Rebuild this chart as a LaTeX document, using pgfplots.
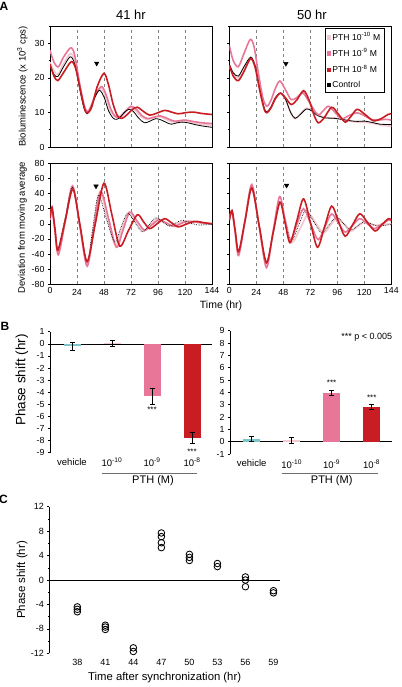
\documentclass[border=0pt]{standalone}
\usepackage{pgfplots}
\pgfplotsset{compat=1.18}
\usepackage{fontspec}
\setmainfont{Liberation Sans}
\newcommand\fs[1]{\fontsize{#1}{#1}\selectfont}
\definecolor{cred}{RGB}{200,30,35}
\definecolor{cpink}{RGB}{232,118,152}
\definecolor{clpink}{RGB}{244,202,210}
\definecolor{cteal}{RGB}{125,198,202}
\definecolor{cgrid}{RGB}{130,130,130}
\definecolor{cline}{RGB}{110,110,110}
\pgfplotsset{
  base/.style={scale only axis, /pgf/number format/assume math mode=true,
    tick align=outside, major tick length=2pt, minor tick length=1.5pt,
    tick style={black, line width=0.5pt},
    axis line style={line width=0.6pt},
    ticklabel style={font=\fs{8.8}},
    label style={font=\fs{9.5}}},
  Apanel/.style={base, width=162pt, height=121pt, xmin=0, xmax=144,
    xtick={24,48,...,120}, xmajorgrids, grid style={dashed, cgrid, line width=0.6pt},
    major x tick style={draw=none}, ytick pos=left},
  Abot/.style={Apanel, ymin=-80, ymax=80, ytick={-80,-60,...,80},
    extra x ticks={0,144}, extra x tick style={grid=none, major tick length=0pt}},
  Atop/.style={Apanel, ymin=0, ymax=35, ytick={0,10,20,30}, minor ytick={5,15,25,35}, xticklabel=\empty},
  clp/.style={clpink, line width=1.8pt, smooth, forget plot},
  pk/.style={cpink, line width=1.6pt, smooth, forget plot},
  blk/.style={black, line width=0.8pt, smooth, forget plot},
  blkd/.style={black, line width=0.7pt, densely dotted, smooth, forget plot},
  rd/.style={cred, line width=1.6pt, smooth, forget plot},
  tri/.style={only marks, mark=triangle*, mark size=2.6pt, mark options={rotate=180, black}, forget plot},
  Bpanel/.style={base, width=162pt, height=121pt, xmin=-0.55, xmax=3.5,
    axis y line*=left, axis x line*=bottom, axis line style={-}, x axis line style={draw=none},
    xtick={0,1,2,3}, xticklabels={vehicle,10\textsuperscript{-10},10\textsuperscript{-9},10\textsuperscript{-8}},
    xticklabel style={font=\fs{9.5}},
    major x tick style={draw=none}, clip=false},
  bar/.style={ybar, bar width=17pt, bar shift=0pt, draw=none, fill=#1,
    error bars/.cd, y dir=both, y explicit,
    error bar style={black, line width=0.6pt},
    error mark options={black, mark size=2.5pt, line width=0.6pt, rotate=90}},
}
\begin{document}
\begin{tikzpicture}
\useasboundingbox (0,0) rectangle (401pt,-687pt);
% ---------------- A top left (41 hr)
\begin{axis}[Atop, at={(50pt,-147pt)}, anchor=south west,
  ylabel={Bioluminescence (x 10\textsuperscript{3} cps)},
  ylabel style={at={(axis description cs:-0.17,0.5)}, anchor=center}]
\addplot[clp] coordinates {(0,24.5) (3.5,22) (7,21) (12,24) (18,27) (22,25) (26,18) (30,12) (33,10) (36,11) (40,14.5) (45,17) (49,15) (53,11) (57,9) (61,8.7) (65,9.8) (71,11.5) (76,10.5) (81,8.8) (86,8.0) (91,8.4) (97,8.8) (102,8.2) (107,7.4) (112,7.3) (118,7.6) (124,7.3) (130,6.8) (137,6.5) (144,6.3)};
\addplot[pk] coordinates {(0,28) (3.5,24.5) (7.5,23.2) (12,26) (18.5,28.7) (22,26.5) (26,19) (30,12.5) (33,10.2) (36,11.5) (41,15.5) (46,17.5) (50,15) (54,11) (58,8.9) (62,8.5) (66,9.8) (72,11.8) (77,10.8) (82,9.0) (87,8.2) (92,8.6) (98,9.0) (104,8.3) (110,7.5) (115,7.6) (120,7.8) (127,7.4) (135,7.0) (144,6.8)};
\addplot[blk] coordinates {(0,23.7) (3.5,21) (7,20.4) (12,23.2) (18,26.1) (22,24) (26,17.5) (30,11.5) (33,9.6) (36,11) (40,14.5) (44,16.4) (48,14.5) (52,10.5) (56,8.4) (59,8.0) (62,8.5) (66,10) (70,10.9) (74,10.3) (79,8.3) (84,7.0) (89,7.5) (94,8.2) (99,7.8) (104,7.0) (108,6.6) (113,7.0) (118,7.2) (124,6.9) (130,6.4) (137,6.0) (144,5.7)};
\addplot[rd] coordinates {(0,24) (3.5,20.5) (7,19.2) (12,21.5) (19,24.7) (23,22.5) (27,16.5) (31,10.8) (33.5,9.9) (37,11.5) (42,17.5) (48,21.3) (52,18) (56,12.5) (60,9.0) (64,8.3) (68,9.2) (73,10.8) (77.6,11.5) (83,10.3) (88.6,9.2) (95,9.8) (102,10.6) (108,10.1) (114,9.6) (120,9.9) (127,10.1) (135,9.7) (144,9.4)};
\addplot[tri] coordinates {(41.5,24.2)};
\end{axis}
% ---------------- A top right (50 hr)
\begin{axis}[Atop, at={(229.3pt,-147pt)}, anchor=south west, yticklabel=\empty,
  legend style={at={(0.959,0.981)}, anchor=north east, font=\fs{8.6}, draw=black, line width=0.6pt, inner sep=2pt, row sep=2.6pt},
  legend cell align=left]
\addplot[clp] coordinates {(0,23.5) (3.5,21) (8,20) (13,22.8) (19,25.5) (23,23) (27,16.5) (31,11) (33.5,10) (37,11.5) (41,14.3) (45.5,15.5) (50,13.7) (54.5,10) (58.5,8.2) (63,9.5) (68.5,11.2) (73,10.7) (79,9.2) (86,8.5) (93,8.4) (100,8.0) (107,7.5) (114,7.2) (120,7.2) (127,6.9) (134,6.4) (144,6.0)};
\addplot[blk] coordinates {(0,24) (3.5,21.5) (8,20.5) (13,23.2) (19,26) (23,23.5) (27,17) (31,11.3) (33.5,10.2) (37,11.5) (41,14.3) (45.5,15.6) (50,13.8) (54.5,10) (58.5,8.3) (63,9.4) (68.5,11) (73,10.5) (79,9.0) (86,8.4) (93,8.3) (100,8.0) (107,7.6) (114,7.4) (120,7.5) (127,7.1) (134,6.6) (144,6.5)};
\addplot[pk] coordinates {(0,29.4) (3.5,25) (8,23.2) (13,27) (18.6,31.1) (22,29) (26,21) (30,14) (33.5,11.8) (37,13.5) (41,17) (45,19.1) (50,16.5) (55,13.7) (60,14.3) (65.5,15.6) (71,13) (78.5,9.4) (83,10.3) (88,11.8) (94,10) (100,8.2) (107,9.2) (113.5,9.9) (120,9.1) (126,8.0) (133,7.8) (139,8.0) (144,7.8)};
\addplot[rd] coordinates {(0,23.7) (3.5,20.5) (8,19.2) (13,21.8) (19,25.6) (23,23) (27,16.5) (31,11) (33.5,9.9) (37,11.3) (41,14) (45.5,15.6) (50,14.2) (55,12.3) (60,13.6) (66,16.3) (71,13.5) (75,9.5) (79,7.0) (84,8.3) (91,11.5) (97,9.5) (103,7.2) (108,8.8) (113.5,10.9) (120,9.6) (128,7.6) (135,8.2) (141,9.4) (144,9.6)};
\addplot[tri] coordinates {(50.3,24.1)};
\addlegendimage{only marks, mark=square*, mark size=1.7pt, clpink}
\addlegendentry{PTH 10\textsuperscript{-10} M}
\addlegendimage{only marks, mark=square*, mark size=1.7pt, cpink}
\addlegendentry{PTH 10\textsuperscript{-9} M}
\addlegendimage{only marks, mark=square*, mark size=1.7pt, cred}
\addlegendentry{PTH 10\textsuperscript{-8} M}
\addlegendimage{only marks, mark=square*, mark size=1.7pt, black}
\addlegendentry{Control}
\end{axis}
% ---------------- A bottom left
\begin{axis}[Abot, at={(50pt,-284.3pt)}, anchor=south west,
  ylabel={Deviation from moving average},
  ylabel style={at={(axis description cs:-0.17,0.47)}, anchor=center}]
\addplot[clp] coordinates {(0,6) (1.8,20) (4.5,-9) (7.3,-38) (13.7,6) (20.2,50) (26.6,-2) (33,-54) (38.7,-6) (44.5,42) (51.2,7) (58,-28) (64,-6.5) (70,15) (76.5,2.7) (83,-9.5) (89.2,-1.5) (95.5,6.5) (101.7,1.7) (108,-3) (114,0.2) (120,3.5) (132,1.7) (144,0)};
\addplot[pk] coordinates {(0,5) (1.8,18) (4.6,-11.5) (7.5,-41) (13.7,4.5) (20,50) (26.5,-3) (33,-56) (39,-6) (45,43) (52,7.5) (59,-31) (65,-7.7) (71,15.5) (77.5,3.5) (84,-8.5) (90.5,-1.5) (97,5.5) (103.5,1.1) (110,-3.3) (116,0) (122,3.3) (133,1.6) (144,0)};
\addplot[blkd] coordinates {(0,15) (1.8,20) (4.4,-6) (7,-33) (13.5,7.5) (20,48) (26.5,-1) (33,-50) (38,-6) (43,38) (50,7) (57.5,-24) (63,-5) (69,14) (75.5,1.7) (82,-10.7) (88,-1.4) (94,8) (100,2.5) (106,-3) (111.5,0.8) (117,4.6) (124,1.5) (131,-1.5) (137.5,-1.2) (144,-1)};
\addplot[rd] coordinates {(0,8) (1.8,22) (4.4,-6.5) (7,-35) (13.7,5.5) (20.4,46) (26.7,-2) (33,-50) (40.5,1.85) (48,53.7) (55,12.2) (62,-29.4) (69.8,-8.7) (77.6,12) (83.1,2.8) (88.6,-6.4) (95.3,0.2) (102,6.8) (108,1.4) (114,-4) (121.3,-0.35) (128.6,3.3) (136.3,1.6) (144,0)};
\addplot[tri] coordinates {(40.9,49.7)};
\end{axis}
% ---------------- A bottom right
\begin{axis}[Abot, at={(229.3pt,-284.3pt)}, anchor=south west, yticklabel=\empty]
\addplot[clp] coordinates {(0,5) (2.4,17) (5.3,-10.5) (8.3,-38) (14.1,4.5) (20,47) (26.5,-2.5) (33,-52) (39,-12) (45,28) (50.3,1.5) (55.6,-25) (63,-5.8) (70.4,13.3) (77,0.6) (83.7,-12) (89.8,-2) (96,8) (102,-0.8) (108,-9.6) (114,-3.6) (120,2.3) (125,0.2) (130,-2) (137,-1) (144,0)};
\addplot[blkd] coordinates {(0,3) (2.4,15) (5.3,-10.5) (8.3,-36) (14.1,5) (20,46) (26.5,-2) (33,-50) (39,-11) (45,28) (50,2.5) (55,-23) (61.5,-2.5) (68,18) (75,3) (82,-12) (88.5,-1.5) (95,9) (101.5,0.5) (108,-8) (114,-2.5) (120,3) (126,0) (132,-3) (138,-2) (144,-1)};
\addplot[pk] coordinates {(0,5) (2.4,16) (5.3,-13) (8.3,-42) (14.1,5) (20,52) (26.5,-3) (33,-58) (38.8,-11) (44.7,36) (49.3,7) (54,-22) (60,-1) (66,20) (72.5,-0.5) (79,-21) (85,-4) (91,13) (97,1) (103,-11) (109.5,-2.1) (116,6.8) (122.5,0.2) (129,-6.4) (135,-0.9) (141,4.6) (144,4)};
\addplot[rd] coordinates {(0,4.6) (2.4,17.7) (5.3,-9.6) (8.3,-37) (14.1,5.2) (20,47.5) (26.5,-2) (33,-51.6) (39,-11.5) (45,28.7) (49.5,1.9) (54,-25) (60,4) (66,33) (72.2,1) (78.4,-31) (84.7,-3.8) (91,23.4) (97,3.4) (103,-16.5) (109.5,-1.6) (116,13.3) (122.8,1.9) (129.6,-9.5) (135.5,-1.4) (141.4,6.8) (144,5)};
\addplot[tri] coordinates {(50.9,50.7)};
\end{axis}
% titles
\node[font=\bfseries\fs{12}] at (4pt,-6.5pt) {A};
\node[font=\fs{13}] at (131pt,-15pt) {41 hr};
\node[font=\fs{13}] at (312pt,-15pt) {50 hr};
\node[font=\fs{10.5}] at (221pt,-305.6pt) {Time (hr)};
% ---------------- B left
\begin{axis}[Bpanel, at={(50pt,-452.7pt)}, anchor=south west, ymin=-9, ymax=1, ytick={-9,...,1},
  ylabel={Phase shift (hr)}, ylabel style={font=\fs{13.5}, at={(axis description cs:-0.173,0.6)}, anchor=center}]
\addplot[black, line width=0.6pt] coordinates {(-0.55,0) (3.5,0)};
\addplot[bar=cteal] coordinates {(0,-0.2) +- (0,0.32)};
\addplot[bar=clpink] coordinates {(1,0.03) +- (0,0.23)};
\addplot[bar=cpink] coordinates {(2,-4.3) +- (0,0.66)};
\addplot[bar=cred] coordinates {(3,-7.78) +- (0,0.47)};
\node[font=\fs{8}] at (axis cs:2,-5.45) {***};
\node[font=\fs{8}] at (axis cs:3,-8.95) {***};
\end{axis}
% ---------------- B right
\begin{axis}[Bpanel, at={(230pt,-454pt)}, anchor=south west, width=161.7pt, height=123.3pt, xmin=-0.54, ymin=-1, ymax=9, ytick={-1,...,9}]
\addplot[black, line width=0.6pt] coordinates {(-0.54,0) (3.5,0)};
\addplot[bar=cteal] coordinates {(0,0.25) +- (0,0.22)};
\addplot[bar=clpink] coordinates {(1,0.12) +- (0,0.25)};
\addplot[bar=cpink] coordinates {(2,3.95) +- (0,0.22)};
\addplot[bar=cred] coordinates {(3,2.83) +- (0,0.2)};
\node[font=\fs{8}] at (axis cs:2,4.75) {***};
\node[font=\fs{8}] at (axis cs:3,3.55) {***};
\end{axis}
\node[font=\bfseries\fs{12}] at (5pt,-326pt) {B};
\node[font=\fs{9}] at (366.7pt,-337pt) {*** p < 0.005};
\draw[cline, line width=0.8pt] (101.7pt,-473pt) -- (197.3pt,-473pt);
\node[font=\fs{11}] at (153pt,-481pt) {PTH (M)};
\draw[cline, line width=0.8pt] (281.7pt,-473pt) -- (378.3pt,-473pt);
\node[font=\fs{11}] at (331.7pt,-481pt) {PTH (M)};
% ---------------- C
\begin{axis}[base, at={(49.3pt,-653.3pt)}, anchor=south west, width=230.7pt, height=146.6pt,
  xmin=35, xmax=59.7, ymin=-12, ymax=12, ytick={-12,-8,...,12}, minor ytick={-10,-6,...,10},
  axis y line*=left, axis x line*=bottom, axis line style={-}, x axis line style={draw=none},
  xtick={38,41,...,59}, major x tick style={draw=none}, ticklabel style={font=\fs{9}},
  xlabel={Time after synchronization (hr)}, xlabel style={font=\fs{11.3}},
  ylabel={Phase shift (hr)}, ylabel style={font=\fs{11.5}, at={(axis description cs:-0.118,0.5)}, anchor=center},
  clip=false]
\addplot[black, line width=0.7pt] coordinates {(35,0) (59.7,0)};
\addplot[only marks, mark=o, mark size=3.3pt, mark options={line width=0.85pt, black}] coordinates {
(38,-4.4) (38,-4.8) (38,-5.2)
(41,-7.4) (41,-7.7) (41,-8.1)
(44,-11.1) (44,-11.7)
(47,7.7) (47,7.1) (47,6.1) (47,5.3)
(50,4.2) (50,3.7) (50,3.2)
(53,2.7) (53,2.2)
(56,0.5) (56,0) (56,-1.1)
(59,-1.75) (59,-2.1)};
\end{axis}
\node[font=\bfseries\fs{12}] at (3.5pt,-499pt) {C};
\end{tikzpicture}
\end{document}
